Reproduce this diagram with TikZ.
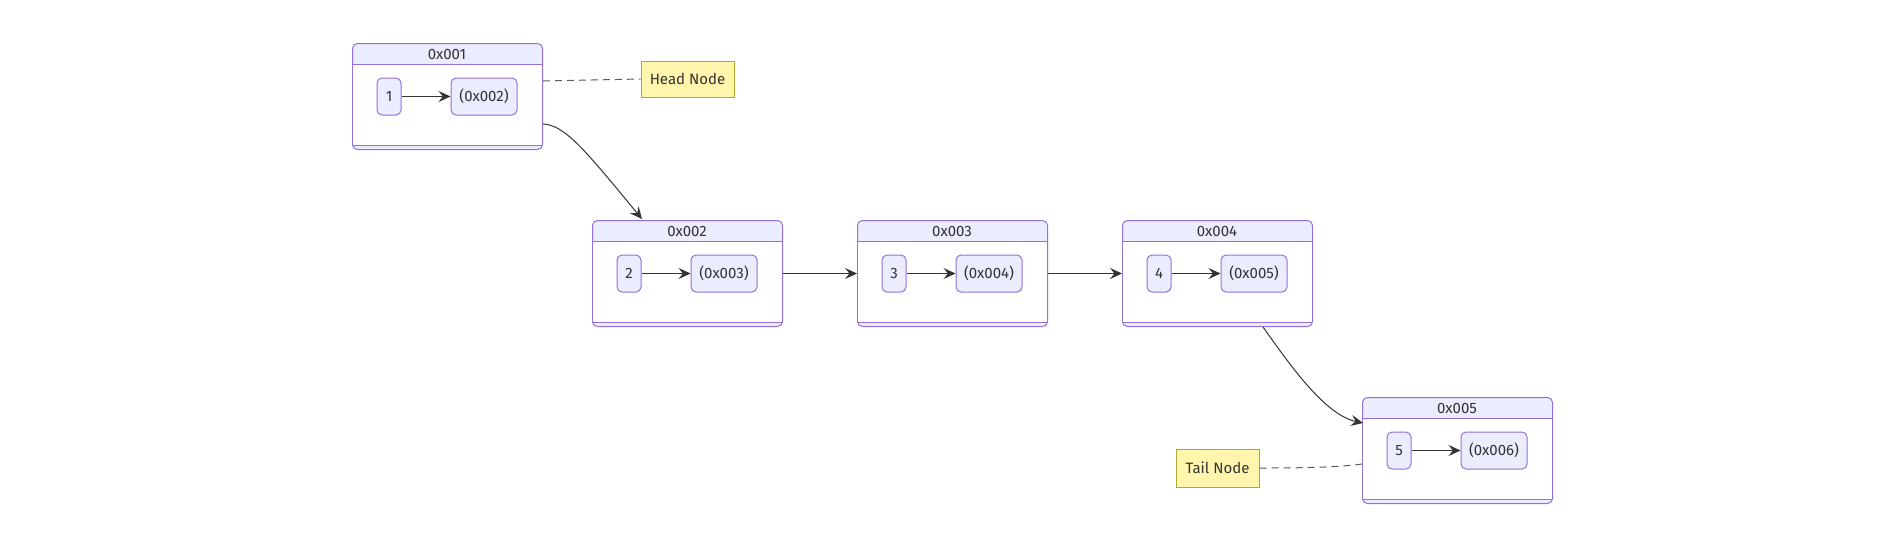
\documentclass[tikz,border=0pt]{standalone}
\usepackage{fontspec}
\setmainfont{Fira Sans}
\usetikzlibrary{arrows.meta}
\definecolor{lav}{HTML}{ECECFF}
\definecolor{purp}{HTML}{9370DB}
\definecolor{edge}{HTML}{333333}
\definecolor{notefill}{HTML}{FFF5AD}
\definecolor{notestroke}{HTML}{AAAA33}
\tikzset{
  txt/.style={text=edge, font=\fontsize{15}{17}\selectfont},
  outerbox/.style={draw=purp, fill=lav, line width=1pt, rounded corners=5pt, minimum width=190pt, minimum height=106pt, inner sep=0pt, anchor=north west},
  bodybox/.style={draw=purp, fill=white, line width=1pt, minimum width=190pt, minimum height=81pt, inner sep=0pt, anchor=north west},
  title/.style={txt},
  valbox/.style={txt, draw=purp, fill=lav, line width=1pt, rounded corners=5pt, minimum width=24pt, minimum height=37pt, inner sep=0pt},
  ptrbox/.style={txt, draw=purp, fill=lav, line width=1pt, rounded corners=5pt, minimum width=66pt, minimum height=37pt, inner sep=0pt},
  notebox/.style={txt, draw=notestroke, fill=notefill, line width=1pt, inner sep=0pt},
  link/.style={draw=edge, line width=1pt, -{Stealth[length=12pt,width=11pt,inset=4.5pt]}},
  innerlink/.style={draw=edge, line width=0.9pt, -{Stealth[length=12pt,width=11pt,inset=4.5pt]}},
  notelink/.style={draw=edge!80, line width=1pt, dash pattern=on 7pt off 5pt},
}
\newcommand\mkbox[6]{%
  \node[outerbox] (#1) at (#2,#3) {};
  \node[bodybox] (#1body) at (#2,#3+21) {};
  \node[title] (#1title) at (#2+95,#3+11) {#4};
  \node[valbox] (#1val) at (#2+37,#3+53.5) {#5};
  \node[ptrbox] (#1ptr) at (#2+132,#3+53.5) {#6};
  \draw[innerlink] (#1val) -- (#1ptr);
}
\begin{document}
\begin{tikzpicture}[x=1pt,y=-1pt]
\useasboundingbox (0,0) rectangle (1904,547);
\mkbox{b1}{352}{43}{0x001}{1}{(0x002)}
\mkbox{b2}{592}{220}{0x002}{2}{(0x003)}
\mkbox{b3}{857}{220}{0x003}{3}{(0x004)}
\mkbox{b4}{1122}{220}{0x004}{4}{(0x005)}
\mkbox{b5}{1362}{397}{0x005}{5}{(0x006)}
\node[notebox, minimum width=93pt, minimum height=36pt] (head) at (687.5,79) {Head Node};
\node[notebox, minimum width=83pt, minimum height=38pt] (tail) at (1217.5,468) {Tail Node};
\coordinate (h1) at (543,81);
\coordinate (e1s) at (543,124);
\coordinate (e1e) at (642,219);
\coordinate (e2s) at (1263,327);
\coordinate (e2e) at (1363,423);
\coordinate (t1) at (1362,464);
\draw[notelink] (h1) -- (head.west);
\draw[notelink] (tail.east) .. controls (1310,468) and (1340,467) .. (t1);
\draw[link] (e1s) .. controls (565,125) and (585,150) .. (e1e);
\draw[link] (b2.east) -- (b3.west);
\draw[link] (b3.east) -- (b4.west);
\draw[link] (e2s) .. controls (1290,365) and (1325,415) .. (e2e);
\end{tikzpicture}
\end{document}
